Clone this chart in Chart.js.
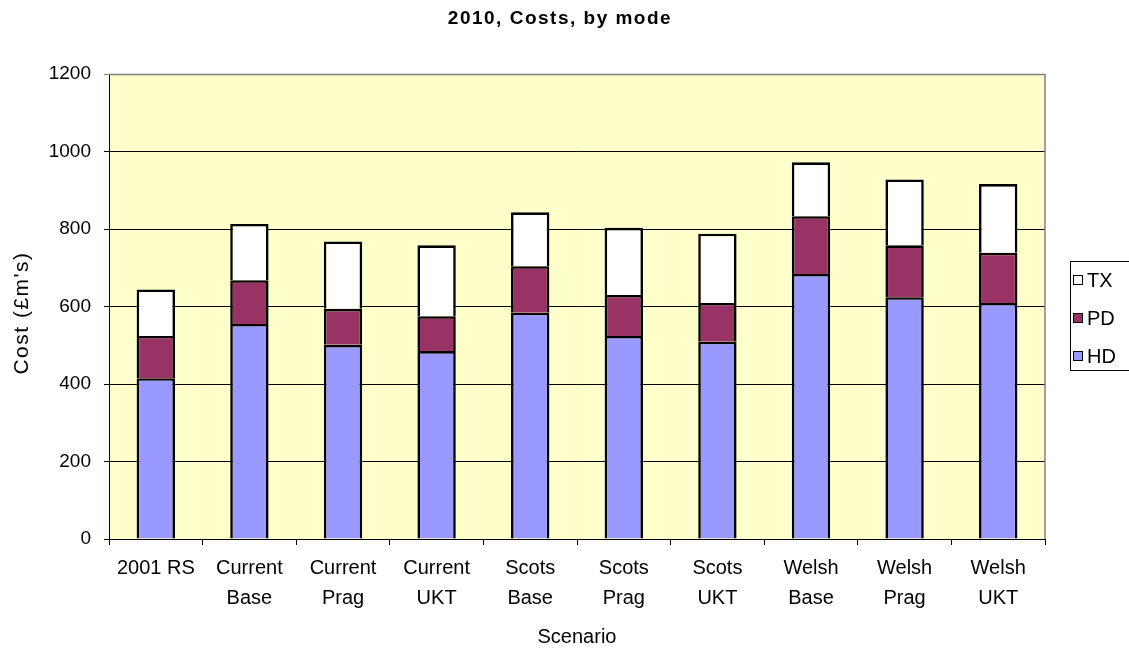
<!DOCTYPE html>
<html>
<head>
<meta charset="utf-8">
<script src="https://cdn.jsdelivr.net/npm/chart.js@4"></script>
<style>
  html, body { margin: 0; padding: 0; background: #fff; }
  #wrap { width: 1129px; height: 650px; }
</style>
</head>
<body>
<div id="wrap"><canvas id="costChart" width="1129" height="650"></canvas></div>
<script>
// scenario labels (multi-line like the original axis)
var scenarios = [
    ["2001 RS"], ["Current", "Base"], ["Current", "Prag"], ["Current", "UKT"],
    ["Scots", "Base"], ["Scots", "Prag"], ["Scots", "UKT"],
    ["Welsh", "Base"], ["Welsh", "Prag"], ["Welsh", "UKT"]
];
// costs in £m
var hdCosts = [415, 555, 501, 485, 584, 524, 509, 684, 624, 609];
var pdCosts = [109, 113, 93, 90, 120, 106, 100, 149, 134, 130];
var txCosts = [120, 145, 174, 183, 139, 173, 179, 139, 170, 177];
var yTicks = [0, 200, 400, 600, 800, 1000, 1200];

var chartTitle = "2010, Costs, by mode";
var xTitle = "Scenario";
var yTitle = "Cost (£m's)";
var fontName = "'Liberation Sans', Arial, sans-serif";

function makeSet(label, data, colour) {
    return {
        label: label,
        data: data,
        backgroundColor: colour,
        borderColor: "#000",
        borderWidth: 2.6,
        borderSkipped: "start",   // lower segment's top edge makes the divider
        inflateAmount: 0,
        barPercentage: 0.41,
        categoryPercentage: 1.0
    };
}

// background of plot + grey frame, titles and the boxed legend
const excelLook = {
    id: "excelLook",
    beforeDraw(chart) {
        var ctx = chart.ctx, a = chart.chartArea;
        ctx.save();
        ctx.fillStyle = "#FFFFCC";
        ctx.fillRect(a.left, a.top, a.right - a.left, a.bottom - a.top);
        ctx.restore();
    },
    afterDraw(chart) {
        var ctx = chart.ctx, a = chart.chartArea;
        ctx.save();
        ctx.strokeStyle = "#808080";
        ctx.lineWidth = 1.5;
        ctx.beginPath();
        ctx.moveTo(a.left, a.top + 0.5);
        ctx.lineTo(a.right, a.top + 0.5);
        ctx.lineTo(a.right, a.bottom);
        ctx.stroke();

        ctx.fillStyle = "#000";
        ctx.textAlign = "center";
        ctx.textBaseline = "middle";

        // main title, slightly spaced like the original
        ctx.font = "bold 19px " + fontName;
        ctx.letterSpacing = "1.5px";
        ctx.fillText(chartTitle, 560, 19);
        ctx.letterSpacing = "0px";

        ctx.font = "20px " + fontName;
        ctx.fillText(xTitle, (a.left + a.right) / 2, 637);

        ctx.save();
        ctx.translate(22, 313);
        ctx.rotate(-Math.PI / 2);
        ctx.font = "21px " + fontName;
        ctx.letterSpacing = "1.5px";
        ctx.fillText(yTitle, 0, 0);
        ctx.restore();

        // legend box, series listed top-down in reverse order
        var boxX = 1070, boxY = 261, boxW = 70, boxH = 109;
        ctx.fillStyle = "#fff";
        ctx.fillRect(boxX, boxY, boxW, boxH);
        ctx.strokeStyle = "#000";
        ctx.lineWidth = 1;
        ctx.strokeRect(boxX + 0.5, boxY + 0.5, boxW, boxH);
        var sets = chart.data.datasets.slice().reverse();
        ctx.font = "20px " + fontName;
        ctx.textAlign = "left";
        sets.forEach((ds, i) => {
            var cy = 280 + i * 38;
            ctx.fillStyle = ds.backgroundColor;
            ctx.fillRect(1073.5, cy - 4.5, 9, 9);
            ctx.strokeStyle = "#000";
            ctx.strokeRect(1073.5, cy - 4.5, 9, 9);
            ctx.fillStyle = "#000";
            ctx.fillText(ds.label, 1087, cy + 1);
        });
        ctx.restore();
    }
};

const ctx = document.getElementById("costChart");
new Chart(ctx, {
    type: "bar",
    data: {
        labels: scenarios,
        datasets: [
            makeSet("HD", hdCosts, "#9999FF"),
            makeSet("PD", pdCosts, "#993366"),
            makeSet("TX", txCosts, "#FFFFFF")
        ]
    },
    options: {
        responsive: false,
        animation: false,
        layout: { padding: { top: 74, right: 84, left: 0, bottom: 0 } },
        plugins: {
            legend: { display: false },
            title: { display: false },
            tooltip: { enabled: false }
        },
        scales: {
            x: {
                stacked: true,
                border: { display: true, color: "#000", width: 1 },
                grid: {
                    display: true,
                    drawOnChartArea: false,
                    drawTicks: true,
                    tickLength: 6,
                    color: "#000"
                },
                ticks: {
                    color: "#000",
                    font: { family: fontName, size: 20, lineHeight: 1.5 },
                    padding: 8,
                    maxRotation: 0,
                    autoSkip: false
                },
                afterFit(scale) { scale.height = 111; }
            },
            y: {
                stacked: true,
                min: 0,
                max: 1200,
                border: { display: true, color: "#000", width: 1 },
                grid: {
                    color: (c) => (c.tick && c.tick.value === 1200 ? "#808080" : "#000"),
                    lineWidth: 1,
                    tickLength: 5
                },
                afterBuildTicks(scale) {
                    scale.ticks = yTicks.map((v) => ({ value: v }));
                },
                ticks: {
                    color: "#000",
                    font: { family: fontName, size: 19 },
                    padding: 13,
                    callback: (v) => String(v)
                },
                afterFit(scale) { scale.width = 109; }
            }
        }
    },
    plugins: [excelLook]
});
</script>
</body>
</html>
